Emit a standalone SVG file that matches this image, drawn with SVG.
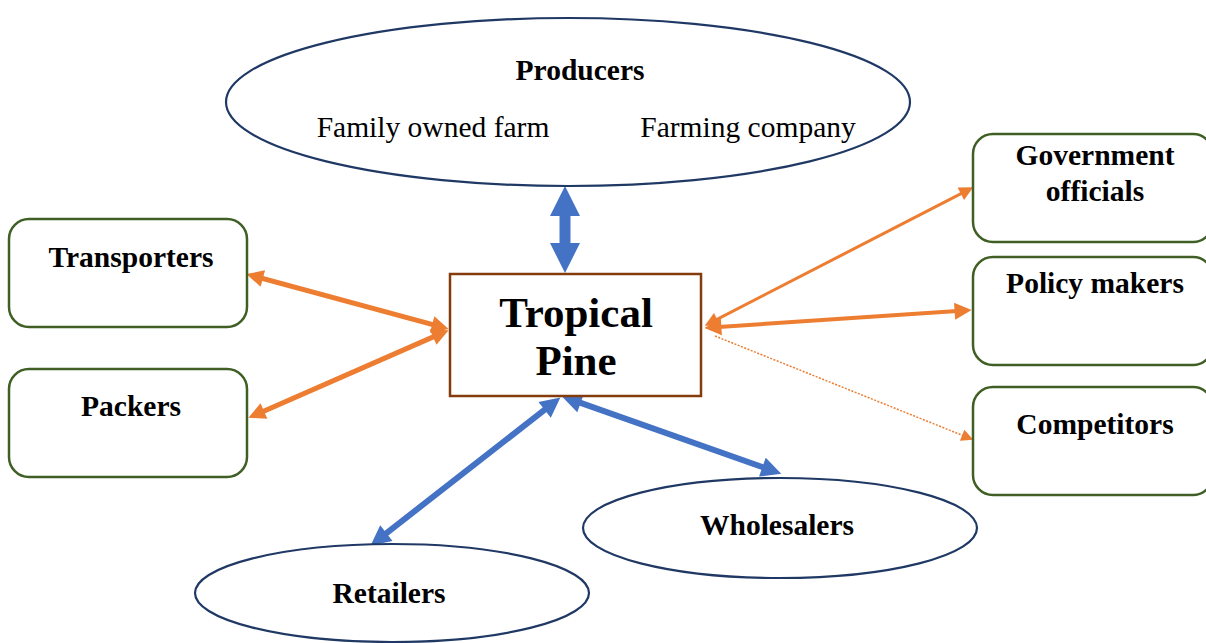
<svg xmlns="http://www.w3.org/2000/svg" width="1206" height="643" viewBox="0 0 1206 643">
  <style>
    .lbl { font-family: "Liberation Serif", "Times New Roman", serif; font-weight: bold; font-size: 29.5px; fill: #000; text-anchor: middle; }
    .big { font-size: 43px; }
    .sub { font-family: "Liberation Serif", "Times New Roman", serif; font-size: 29.5px; fill: #000; text-anchor: middle; }
    .ell { fill: #fff; stroke: #1F3864; stroke-width: 2.2; }
    .rbox { fill: #fff; stroke: #3F5F24; stroke-width: 2.5; }
    .orange { fill: none; stroke: #ED7D31; }
    .blue { fill: none; stroke: #4472C4; }
  </style>
  <defs>
    <marker id="oBig" viewBox="0 0 10 10" refX="6" refY="5" markerWidth="18" markerHeight="17" markerUnits="userSpaceOnUse" orient="auto-start-reverse">
      <path d="M0,0 L10,5 L0,10 z" fill="#ED7D31"/>
    </marker>
    <marker id="oMid" viewBox="0 0 10 10" refX="6" refY="5" markerWidth="16" markerHeight="14" markerUnits="userSpaceOnUse" orient="auto-start-reverse">
      <path d="M0,0 L10,5 L0,10 z" fill="#ED7D31"/>
    </marker>
    <marker id="oSmall" viewBox="0 0 10 10" refX="6" refY="5" markerWidth="14" markerHeight="12" markerUnits="userSpaceOnUse" orient="auto">
      <path d="M0,0 L10,5 L0,10 z" fill="#ED7D31"/>
    </marker>
    <marker id="bHead" viewBox="0 0 10 10" refX="6" refY="5" markerWidth="22" markerHeight="20" markerUnits="userSpaceOnUse" orient="auto-start-reverse">
      <path d="M0,0 L10,5 L0,10 z" fill="#4472C4"/>
    </marker>
    <marker id="bWide" viewBox="0 0 10 10" refX="6" refY="5" markerWidth="30" markerHeight="32" markerUnits="userSpaceOnUse" orient="auto-start-reverse">
      <path d="M0,0 L10,5 L0,10 z" fill="#4472C4"/>
    </marker>
  </defs>

  <!-- connectors -->
  <g id="connectors">
    <line x1="565" y1="198" x2="565" y2="261" class="blue" stroke-width="11" marker-start="url(#bWide)" marker-end="url(#bWide)"/>
    <line x1="253" y1="275.9" x2="442" y2="327.1" class="orange" stroke-width="5" marker-start="url(#oBig)" marker-end="url(#oBig)"/>
    <line x1="254.6" y1="415.1" x2="442.4" y2="332.9" class="orange" stroke-width="5" marker-start="url(#oBig)" marker-end="url(#oBig)"/>
    <line x1="709.7" y1="323.1" x2="968.3" y2="189.9" class="orange" stroke-width="3" marker-start="url(#oMid)" marker-end="url(#oMid)"/>
    <line x1="711.2" y1="327.5" x2="964.8" y2="310.5" class="orange" stroke-width="4" marker-start="url(#oBig)" marker-end="url(#oBig)"/>
    <line x1="715" y1="336" x2="968.8" y2="437.9" class="orange" stroke-width="1.5" stroke-dasharray="2 1.5" marker-end="url(#oSmall)"/>
    <line x1="554.1" y1="402.4" x2="376.9" y2="540.6" class="blue" stroke-width="6" marker-start="url(#bHead)" marker-end="url(#bHead)"/>
    <line x1="569.3" y1="398.9" x2="773.7" y2="471.1" class="blue" stroke-width="6" marker-start="url(#bHead)" marker-end="url(#bHead)"/>
  </g>

  <!-- producers -->
  <g id="producers">
    <ellipse cx="568" cy="102" rx="342" ry="84" class="ell"/>
    <text x="580" y="80" class="lbl">Producers</text>
    <text x="433" y="137" class="sub">Family owned farm</text>
    <text x="748" y="137" class="sub">Farming company</text>
  </g>

  <!-- central firm -->
  <g id="tropical-pine">
    <rect x="450" y="274" width="251" height="122" fill="#fff" stroke="#843C0C" stroke-width="2.5"/>
    <text x="576" y="327" class="lbl big">Tropical</text>
    <text x="576" y="375" class="lbl big">Pine</text>
  </g>

  <g id="transporters">
    <rect x="9" y="219" width="238" height="108" rx="20" class="rbox"/>
    <text x="131" y="267" class="lbl">Transporters</text>
  </g>

  <g id="packers">
    <rect x="9" y="369" width="238" height="108" rx="20" class="rbox"/>
    <text x="131" y="416" class="lbl">Packers</text>
  </g>

  <g id="government-officials">
    <rect x="973" y="134" width="240" height="108" rx="20" class="rbox"/>
    <text x="1095" y="165" class="lbl">Government</text>
    <text x="1095" y="201" class="lbl">officials</text>
  </g>

  <g id="policy-makers">
    <rect x="973" y="257" width="240" height="108" rx="20" class="rbox"/>
    <text x="1095" y="293" class="lbl">Policy makers</text>
  </g>

  <g id="competitors">
    <rect x="973" y="387" width="240" height="108" rx="20" class="rbox"/>
    <text x="1095" y="434" class="lbl">Competitors</text>
  </g>

  <g id="wholesalers">
    <ellipse cx="780" cy="528" rx="197" ry="50" class="ell"/>
    <text x="777" y="535" class="lbl">Wholesalers</text>
  </g>

  <g id="retailers">
    <ellipse cx="392" cy="593" rx="197" ry="49" class="ell"/>
    <text x="389" y="603" class="lbl">Retailers</text>
  </g>
</svg>
